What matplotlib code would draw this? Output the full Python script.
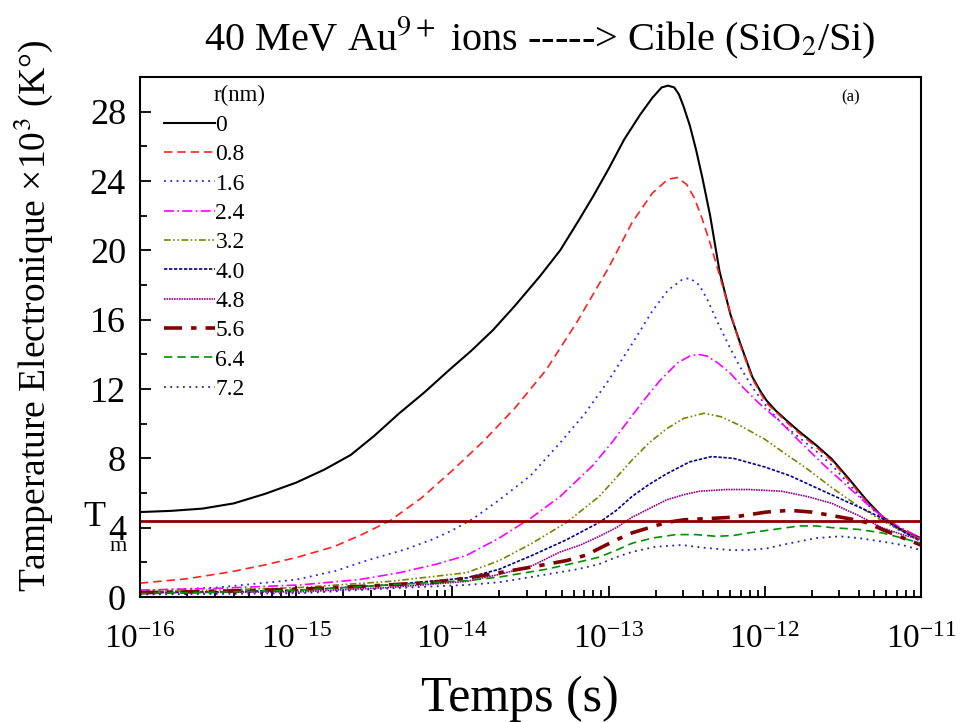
import numpy as np
import matplotlib
matplotlib.use("Agg")
import matplotlib.pyplot as plt

plt.rcParams['font.family'] = ['Liberation Serif', 'DejaVu Serif']
plt.rcParams['mathtext.fontset'] = 'stix'

# temperature melting line (x10^3 K)
t_melt = 4.38

# log10(time in s) and electronic temperature (x10^3 K), one pair per radius
lt_r0 = [-16.0, -15.8, -15.6, -15.4, -15.2, -15.0, -14.82, -14.65, -14.5, -14.34, -14.18, -14.02,
         -13.88, -13.74, -13.6, -13.44, -13.31, -13.2, -13.1, -13.0, -12.9, -12.8, -12.72, -12.66,
         -12.62, -12.58, -12.55, -12.52, -12.48, -12.44, -12.4, -12.35, -12.29, -12.22, -12.16, -12.08,
         -12.03, -11.99, -11.93, -11.85, -11.78, -11.67, -11.57, -11.46, -11.35, -11.25, -11.15, -11.07,
         -11.0]
T_r0 = [4.9, 4.97, 5.1, 5.4, 5.95, 6.6, 7.35, 8.2, 9.3, 10.6, 11.8, 13.1,
        14.2, 15.4, 16.8, 18.5, 20.0, 21.6, 23.1, 24.7, 26.4, 27.8, 28.8, 29.4,
        29.5, 29.4, 29.0, 28.3, 27.2, 25.8, 24.2, 22.0, 18.8, 16.3, 14.7, 12.7,
        11.9, 11.35, 10.75, 10.1, 9.55, 8.75, 7.95, 6.8, 5.6, 4.65, 4.0, 3.65,
        3.4]

lt_r08 = [-16.0, -15.7, -15.42, -15.2, -14.99, -14.76, -14.58, -14.4, -14.2, -14.0, -13.8, -13.6,
          -13.4, -13.2, -13.0, -12.85, -12.72, -12.62, -12.56, -12.5, -12.45, -12.4, -12.35, -12.31,
          -12.25, -12.16, -12.08, -12.03, -11.99, -11.92, -11.85, -11.78, -11.67, -11.57, -11.46, -11.35,
          -11.25, -11.15, -11.0]
T_r08 = [0.8, 1.05, 1.45, 1.85, 2.3, 2.9, 3.6, 4.4, 5.7, 7.3, 9.0, 10.9,
         13.1, 15.9, 19.0, 21.6, 23.3, 24.1, 24.2, 23.8, 23.0, 21.8, 20.4, 19.2,
         17.3, 14.6, 12.6, 11.8, 11.2, 10.6, 10.0, 9.45, 8.65, 7.85, 6.7, 5.5,
         4.6, 3.95, 3.35]

lt_r16 = [-16.0, -15.5, -15.0, -14.75, -14.55, -14.3, -14.12, -14.0, -13.87, -13.7, -13.5, -13.31,
          -13.15, -13.0, -12.85, -12.72, -12.62, -12.53, -12.48, -12.42, -12.37, -12.31, -12.23, -12.16,
          -12.08, -11.99, -11.89, -11.78, -11.67, -11.57, -11.46, -11.35, -11.25, -11.15, -11.0]
T_r16 = [0.35, 0.55, 1.0, 1.5, 2.1, 2.75, 3.35, 3.85, 4.5, 5.6, 7.0, 8.9,
         10.6, 12.5, 14.6, 16.5, 17.7, 18.3, 18.4, 18.0, 17.2, 16.0, 14.5, 13.3,
         12.1, 11.0, 10.0, 9.2, 8.4, 7.6, 6.5, 5.4, 4.55, 3.9, 3.3]

lt_r24 = [-16.0, -15.5, -14.97, -14.6, -14.34, -14.1, -13.91, -13.7, -13.49, -13.31, -13.1, -12.98,
          -12.88, -12.77, -12.67, -12.56, -12.48, -12.43, -12.37, -12.3, -12.22, -12.14, -12.04, -11.9,
          -11.78, -11.62, -11.46, -11.3, -11.15, -11.0]
T_r24 = [0.4, 0.5, 0.7, 1.0, 1.4, 1.9, 2.4, 3.4, 4.6, 5.8, 7.6, 8.9,
         10.1, 11.4, 12.5, 13.5, 13.9, 14.0, 13.9, 13.5, 12.9, 12.1, 11.2, 10.1,
         9.0, 7.6, 6.3, 5.0, 4.1, 3.4]

lt_r32 = [-16.0, -15.5, -14.97, -14.4, -13.91, -13.7, -13.49, -13.27, -13.06, -12.95, -12.85, -12.74,
          -12.63, -12.52, -12.39, -12.28, -12.16, -12.0, -11.89, -11.73, -11.57, -11.41, -11.25, -11.12,
          -11.0]
T_r32 = [0.3, 0.4, 0.55, 0.9, 1.4, 2.1, 3.1, 4.3, 5.8, 6.9, 7.9, 8.9,
         9.7, 10.3, 10.6, 10.4, 9.9, 9.1, 8.4, 7.4, 6.3, 5.3, 4.4, 3.8,
         3.3]

lt_r40 = [-16.0, -15.5, -14.97, -14.4, -13.91, -13.7, -13.49, -13.27, -13.06, -12.95, -12.85, -12.74,
          -12.63, -12.48, -12.34, -12.2, -12.0, -11.84, -11.67, -11.5, -11.35, -11.22, -11.1, -11.0]
T_r40 = [0.25, 0.3, 0.4, 0.7, 1.1, 1.6, 2.4, 3.3, 4.3, 5.0, 5.8, 6.5,
         7.1, 7.8, 8.1, 8.0, 7.5, 7.0, 6.3, 5.6, 5.0, 4.4, 3.7, 3.2]

lt_r48 = [-16.0, -15.5, -14.97, -14.4, -13.91, -13.7, -13.49, -13.31, -13.18, -13.06, -12.95, -12.85,
          -12.74, -12.63, -12.52, -12.42, -12.25, -12.1, -11.89, -11.73, -11.57, -11.4, -11.25, -11.12,
          -11.0]
T_r48 = [0.25, 0.27, 0.3, 0.55, 0.9, 1.3, 1.8, 2.6, 3.0, 3.5, 4.0, 4.6,
         5.1, 5.6, 5.9, 6.1, 6.2, 6.2, 6.1, 5.8, 5.4, 4.7, 4.0, 3.6,
         3.3]

lt_r56 = [-16.0, -15.5, -14.97, -14.5, -14.12, -13.9, -13.7, -13.48, -13.27, -13.15, -13.06, -12.95,
          -12.85, -12.74, -12.63, -12.52, -12.42, -12.31, -12.21, -12.1, -11.99, -11.84, -11.7, -11.57,
          -11.45, -11.35, -11.25, -11.14, -11.0]
T_r56 = [0.25, 0.33, 0.45, 0.65, 0.85, 1.1, 1.4, 1.75, 2.1, 2.4, 2.8, 3.3,
         3.7, 4.0, 4.3, 4.45, 4.5, 4.55, 4.6, 4.75, 4.9, 5.0, 4.9, 4.7,
         4.5, 4.3, 3.9, 3.5, 3.0]

lt_r64 = [-16.0, -15.5, -14.97, -14.4, -13.9, -13.7, -13.4, -13.2, -13.06, -12.95, -12.85, -12.72,
          -12.57, -12.44, -12.31, -12.2, -12.1, -11.94, -11.78, -11.67, -11.57, -11.4, -11.25, -11.12,
          -11.0]
T_r64 = [0.2, 0.28, 0.4, 0.7, 0.95, 1.15, 1.6, 2.0, 2.3, 2.7, 3.1, 3.4,
         3.6, 3.6, 3.5, 3.55, 3.7, 3.9, 4.1, 4.1, 4.0, 3.9, 3.7, 3.4,
         3.1]

lt_r72 = [-16.0, -15.5, -14.97, -14.4, -13.9, -13.7, -13.4, -13.2, -13.06, -12.95, -12.85, -12.7,
          -12.53, -12.4, -12.21, -12.1, -11.99, -11.84, -11.67, -11.52, -11.4, -11.25, -11.12, -11.0]
T_r72 = [0.15, 0.18, 0.22, 0.5, 0.7, 0.85, 1.3, 1.6, 1.9, 2.3, 2.6, 2.9,
         3.0, 2.85, 2.7, 2.72, 2.8, 3.1, 3.4, 3.5, 3.4, 3.2, 3.0, 2.7]

radii = ["0", "0.8", "1.6", "2.4", "3.2", "4.0", "4.8", "5.6", "6.4", "7.2"]
series = [(lt_r0, T_r0), (lt_r08, T_r08), (lt_r16, T_r16), (lt_r24, T_r24), (lt_r32, T_r32),
          (lt_r40, T_r40), (lt_r48, T_r48), (lt_r56, T_r56), (lt_r64, T_r64), (lt_r72, T_r72)]

# style per radius: colour, dash pattern, width
styles = [
    ("black", None, 1.5),
    ("#ff2020", (5, 3), 1.2),
    ("#2020ff", (1, 2.5), 1.3),
    ("#ff00ff", (6, 2, 1, 2), 1.2),
    ("#808000", (4, 1.5, 1, 1.5, 1, 1.5), 1.2),
    ("#000090", (2, 1), 1.2),
    ("#900090", (1, 0.5), 1.2),
    ("#800000", (5, 2.5, 1.5, 2.5), 2.6),
    ("#009000", (5, 3), 1.2),
    ("#2020c0", (1, 2.5), 1.3),
]

fig = plt.figure(figsize=(9.6, 7.22), dpi=100)
ax = fig.add_axes([140 / 960, 1 - 597 / 722, 781 / 960, 520 / 722])

for (lt, T), r, (c, dash, lw) in zip(series, radii, styles):
    line, = ax.plot(10 ** np.array(lt), T, color=c, lw=lw, label=r)
    if dash is not None:
        line.set_dashes(dash)

ax.axhline(t_melt, color="#8b0000", lw=2)

ax.set_xscale("log")
ax.set_xlim(1e-16, 1e-11)
ax.set_ylim(0, 30)
ax.set_yticks(range(0, 29, 4))
ax.set_yticks(range(2, 30, 4), minor=True)
ax.tick_params(which="both", direction="in", top=False, right=False, width=1.3)
ax.tick_params(which="major", length=8)
ax.tick_params(which="minor", length=5)
ax.tick_params(axis="y", labelsize=26, pad=10)
ax.tick_params(axis="x", labelsize=24, pad=20)
for s in ax.spines.values():
    s.set_linewidth(1.5)

# T_m label next to the melting line
ax.text(-0.059, 0.152, "T", transform=ax.transAxes, fontsize=26, ha="center", va="center", clip_on=False)
ax.text(-0.028, 0.098, "m", transform=ax.transAxes, fontsize=16, ha="center", va="center", clip_on=False)
ax.text(0.91, 0.96, "(a)", transform=ax.transAxes, fontsize=12, ha="center", va="center")

ax.text(0.128, 0.965, "r(nm)", transform=ax.transAxes, fontsize=16.5, ha="center", va="center")
ax.legend(loc="upper left", bbox_to_anchor=(0.018, 0.946), frameon=False,
          fontsize=17, handlelength=2.2, handletextpad=0.0,
          labelspacing=0.33, borderaxespad=0.0)

ax.set_xlabel("Temps (s)", fontsize=36)
ax.xaxis.set_label_coords(0.487, -0.15)
ax.set_ylabel("Tamperature Electronique ×10$^{3}$ (K°)", fontsize=27)
ax.yaxis.set_label_coords(-0.109, 0.542)

fig.text(540 / 960, 1 - 38 / 722, "40 MeV Au$^{9+}$ ions -----> Cible (SiO$_{2}$/Si)",
         fontsize=29, ha="center", va="center")

fig.savefig("out.png", dpi=100)
